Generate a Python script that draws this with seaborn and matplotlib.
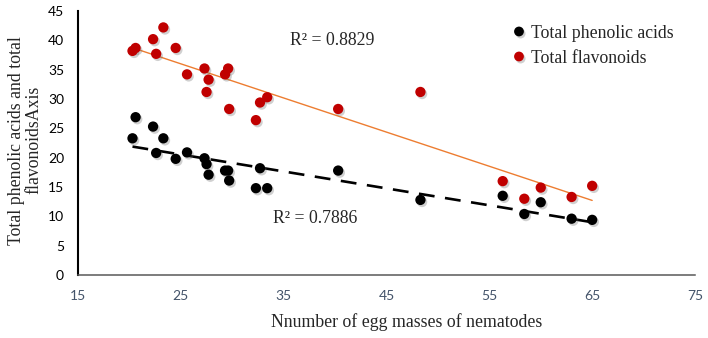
import numpy as np
import pandas as pd
import matplotlib
matplotlib.use("Agg")
import matplotlib.pyplot as plt
import matplotlib.patheffects as pe
import seaborn as sns

# egg masses (shared x for both series)
egg_masses = [20.3, 20.6, 22.3, 22.6, 23.3, 24.5, 25.6, 27.3, 27.5, 27.7, 29.3, 29.6,
              29.7, 32.3, 32.7, 33.4, 40.3, 48.3, 56.3, 58.4, 60.0, 63.0, 65.0]
phenolic = [23.3, 26.9, 25.3, 20.8, 23.3, 19.8, 20.9, 19.9, 18.9, 17.1, 17.8, 17.8,
            16.1, 14.8, 18.2, 14.8, 17.8, 12.8, 13.5, 10.4, 12.4, 9.6, 9.4]
flavonoids = [38.2, 38.7, 40.2, 37.7, 42.2, 38.7, 34.2, 35.2, 31.2, 33.3, 34.2, 35.2,
              28.3, 26.4, 29.4, 30.3, 28.3, 31.2, 16.0, 13.0, 14.9, 13.3, 15.2]
series_names = ["Total phenolic acids", "Total flavonoids"]
r2_labels = ["R\u00b2 = 0.7886", "R\u00b2 = 0.8829"]
xticks = [15, 25, 35, 45, 55, 65, 75]
yticks = [0, 5, 10, 15, 20, 25, 30, 35, 40, 45]

df = pd.DataFrame({"x": egg_masses * 2,
                   "y": phenolic + flavonoids,
                   "series": [series_names[0]] * len(egg_masses) + [series_names[1]] * len(egg_masses)})

sns.set_style("white")
plt.rcParams["font.family"] = ["Liberation Serif", "DejaVu Serif"]

pal = {series_names[0]: "black", series_names[1]: "#C00000"}

fig = plt.figure(figsize=(7.08, 3.38), dpi=100)
ax = fig.add_axes([78 / 708, 63 / 338, 617 / 708, 264 / 338])

# trend lines
sns.regplot(data=df[df.series == series_names[1]], x="x", y="y", scatter=False, ci=None,
            ax=ax, line_kws={"color": "#ED7D31", "lw": 1.0})
sns.regplot(data=df[df.series == series_names[0]], x="x", y="y", scatter=False, ci=None,
            ax=ax, line_kws={"color": "black", "lw": 1.9, "dashes": (6, 4)})

sns.scatterplot(data=df, x="x", y="y", hue="series", palette=pal, s=55, linewidth=0,
                ax=ax, zorder=3,
                path_effects=[pe.SimplePatchShadow(offset=(1.2, -1.5), shadow_rgbFace="0.4",
                                                   alpha=0.3), pe.Normal()])

ax.set_xlim(15, 75)
ax.set_ylim(0, 45)
ax.set_xticks(xticks)
ax.set_yticks(yticks)
for lab in ax.get_xticklabels():
    lab.set_family("Lato")
    lab.set_fontsize(10)
    lab.set_color("#44546A")
for lab in ax.get_yticklabels():
    lab.set_family("Lato")
    lab.set_fontsize(10)
    lab.set_color("black")
ax.tick_params(axis="both", length=0)
ax.tick_params(axis="x", pad=11)
ax.tick_params(axis="y", pad=10)

sns.despine(ax=ax)
ax.spines["left"].set_color("black")
ax.spines["left"].set_linewidth(1.5)
ax.spines["bottom"].set_color("#595959")
ax.spines["bottom"].set_linewidth(1.1)

ax.set_xlabel("Nnumber of egg masses of nematodes", fontsize=12.8)
ax.xaxis.set_label_coords(0.532, -0.145)
ax.set_ylabel("Total phenolic acids and total\nflavonoidsAxis", fontsize=12.8, linespacing=1.0)
ax.yaxis.set_label_coords(-0.058, 0.51)

ax.text(39.7, 40.05, r2_labels[1], fontsize=12.8, ha="center", va="center")
ax.text(38.05, 9.55, r2_labels[0], fontsize=12.8, ha="center", va="center")

leg = ax.legend(loc="upper left", bbox_to_anchor=(0.696, 0.975), frameon=False, fontsize=12.8,
                handlelength=0.5, handletextpad=0.4, labelspacing=0.45, markerscale=0.95,
                borderaxespad=0)

fig.savefig("out.png", dpi=100)
